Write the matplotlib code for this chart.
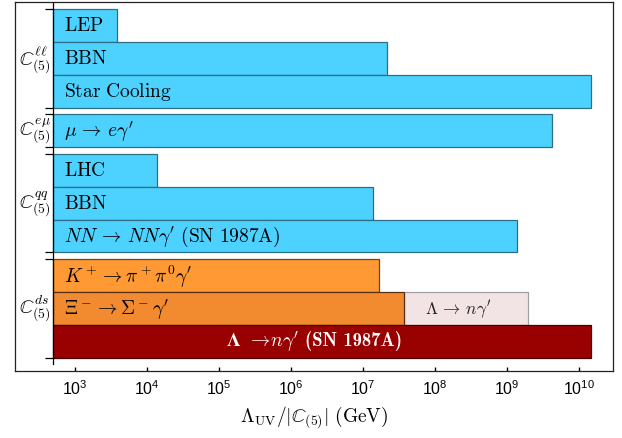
import numpy as np
import matplotlib
matplotlib.use('Agg')
import matplotlib.pyplot as plt
from matplotlib.transforms import blended_transform_factory
from matplotlib.offsetbox import TextArea, HPacker, AnnotationBbox

plt.rcParams['mathtext.fontset'] = 'custom'
plt.rcParams['mathtext.rm'] = 'Liberation Sans'
plt.rcParams['mathtext.it'] = 'Liberation Sans:italic'
plt.rcParams['mathtext.bf'] = 'Liberation Sans:bold'
plt.rcParams['font.family'] = ['Liberation Sans', 'DejaVu Sans']

# ---------------- data ----------------
group_labels = [r'$\mathbb{C}^{\ell\ell}_{(5)}$', r'$\mathbb{C}^{e\mu}_{(5)}$',
                r'$\mathbb{C}^{qq}_{(5)}$', r'$\mathbb{C}^{ds}_{(5)}$']
group_sizes = [3, 1, 3, 3]
bar_labels = [r'$\mathrm{LEP}$', r'$\mathrm{BBN}$', r'$\mathrm{Star\ Cooling}$',
              r'$\mu\,\rightarrow\,e\gamma^\prime$',
              r'$\mathrm{LHC}$', r'$\mathrm{BBN}$',
              r'$NN\,\rightarrow\,NN\gamma^\prime\ \mathrm{(SN\ 1987A)}$',
              r'$K^+\rightarrow\pi^+\pi^0\gamma^\prime$',
              r'$\Xi^-\rightarrow\Sigma^-\gamma^\prime$',
              None]
# composite label for the last (bold) bar: bold Lambda, arrow part, bold suffix
last_label_parts = [r'$\mathbf{\Lambda}$', r'$\rightarrow\! n\gamma^\prime$', '(SN 1987A)']
bar_limits = [3.9e3, 2.2e7, 1.5e10, 4.3e9, 1.4e4, 1.4e7, 1.4e9, 1.7e7, 3.8e7, 1.5e10]
extra_label = r'$\Lambda\,\rightarrow\,n\gamma^\prime$'
extra_row = 8
extra_limit = 2.0e9
lower_bound = 500
x_range = (148, 3.0e10)
tick_exps = [3, 4, 5, 6, 7, 8, 9, 10]
xlabel = r'$\Lambda_{\rm UV}/|\mathbb{C}_{(5)}|\ \mathrm{(GeV)}$'

# ---------------- styles ----------------
blue = '#4dd2ff'
blue_edge = '#2c6f86'
face_colors = [blue] * 7 + ['#ff9933', '#f28a30', '#990000']
edge_colors = [blue_edge] * 7 + ['#6b4520', '#5a3010', '#4a0000']
extra_face = '#f2e4e4'
extra_edge = '#a0a0a0'
gap = 0.2
FS = 14

fig = plt.figure(figsize=(6.22, 4.39), dpi=100)
ax = fig.add_axes([15 / 622, 67 / 439, 598 / 622, 369 / 439])

# row positions
centers = []
boundaries = []
group_centers = []
pos = 0.0
for n in group_sizes:
    boundaries.append(pos)
    group_centers.append(pos + n / 2)
    for i in range(n):
        centers.append(pos + i + 0.5)
    pos += n
    boundaries.append(pos)
    pos += gap
last_bottom = pos - gap

widths = [v - lower_bound for v in bar_limits]
ax.barh(centers, widths, left=lower_bound, height=1.0, color=face_colors,
        edgecolor=edge_colors, linewidth=0.9, zorder=2)
ax.barh(centers[extra_row], extra_limit - bar_limits[extra_row], left=bar_limits[extra_row],
        height=1.0, color=extra_face, edgecolor=extra_edge, linewidth=0.9, zorder=1.5)

ax.set_xscale('log')
ax.set_xlim(*x_range)
ax.set_ylim(last_bottom + 0.4, -0.21)

# bar labels
blend = blended_transform_factory(ax.transAxes, ax.transData)
for i, (lab, c) in enumerate(zip(bar_labels, centers)):
    if lab is None:
        continue
    ax.annotate(lab, xy=(lower_bound, c), xytext=(8, 0), textcoords='offset points',
                ha='left', va='center', fontsize=FS, color='black',
                math_fontfamily='cm', zorder=5)

# bold white label on the dark bar
parts = [
    TextArea(last_label_parts[0], textprops=dict(color='white', fontsize=FS, math_fontfamily='stix')),
    TextArea(last_label_parts[1], textprops=dict(color='white', fontsize=FS, math_fontfamily='cm')),
    TextArea(last_label_parts[2], textprops=dict(color='white', fontsize=FS - 0.5, family='cmb10')),
]
pack = HPacker(children=parts, align='baseline', pad=0, sep=4)
ab = AnnotationBbox(pack, (0.5, centers[-1]), xycoords=blend, frameon=False,
                    box_alignment=(0.5, 0.45), zorder=6)
ax.add_artist(ab)

xc = np.sqrt(bar_limits[extra_row] * extra_limit)
ax.annotate(extra_label, xy=(xc, centers[extra_row]), xytext=(-6, 0), textcoords='offset points',
            ha='center', va='center', fontsize=FS - 1.5, color='#222222',
            math_fontfamily='cm', zorder=5)

# inner "axis" at lower bound with group ticks
ax.plot([lower_bound, lower_bound], [-0.21, last_bottom + 0.18], color='black', lw=0.9, zorder=4)
ax.plot([lower_bound] * len(boundaries), boundaries, linestyle='none', marker=0,
        markersize=5.5, markeredgewidth=0.9, color='black', zorder=4)
for lab, gc in zip(group_labels, group_centers):
    ax.annotate(lab, xy=(lower_bound, gc), xytext=(-1.5, 0), textcoords='offset points',
                ha='right', va='center', fontsize=FS, math_fontfamily='cm')

ax.set_yticks([])
ax.set_xticks([10.0 ** e for e in tick_exps])
ax.set_xticklabels([r'$10^{%d}$' % e for e in tick_exps], fontsize=11.5)
ax.xaxis.set_minor_locator(matplotlib.ticker.NullLocator())
ax.tick_params(axis='x', direction='in', length=3, width=1.0, pad=5)
ax.set_xlabel(xlabel, fontsize=FS, math_fontfamily='cm', labelpad=5)
for s in ax.spines.values():
    s.set_color('#222222')
    s.set_linewidth(0.9)

fig.savefig('out.png', dpi=100)
